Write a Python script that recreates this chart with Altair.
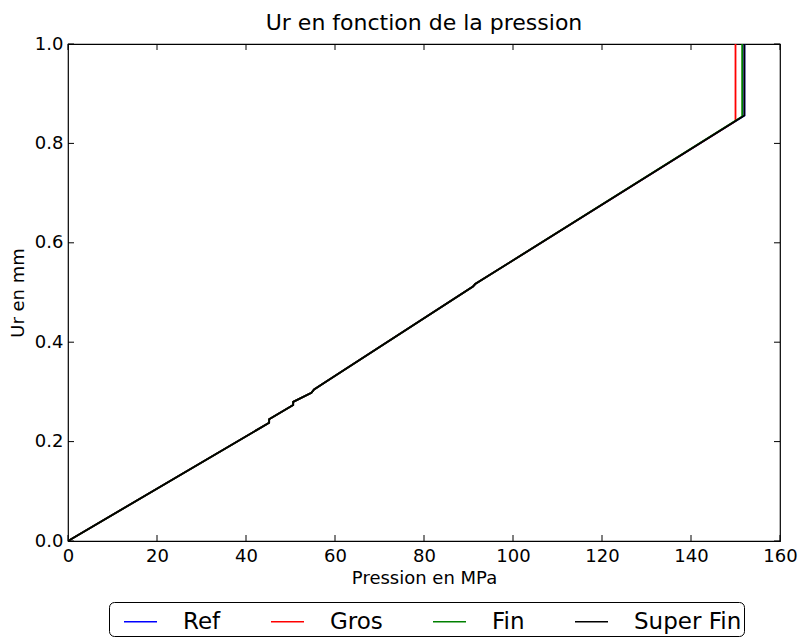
import altair as alt
import pandas as pd

# ---- data ----
series_names = ["Ref", "Gros", "Fin", "Super Fin"]
series_colors = ["#0000ff", "#ff0000", "#008000", "#000000"]

ref_p = [0, 45.2, 45.2, 50.6, 50.6, 54.7, 55.3, 57.7, 91.0, 91.5, 152.0, 152.0]
ref_u = [0, 0.238, 0.245, 0.2736, 0.280, 0.298, 0.305, 0.319, 0.512, 0.517, 0.856, 1.0]

gros_p = [0, 45.2, 45.2, 50.6, 50.6, 54.7, 55.3, 57.7, 91.0, 91.5, 150.0, 150.0]
gros_u = [0, 0.238, 0.245, 0.2736, 0.280, 0.298, 0.305, 0.319, 0.512, 0.517, 0.845, 1.0]

fin_p = [0, 45.2, 45.2, 50.6, 50.6, 54.7, 55.3, 57.7, 91.0, 91.5, 151.5, 151.5]
fin_u = [0, 0.238, 0.245, 0.2736, 0.280, 0.298, 0.305, 0.319, 0.512, 0.517, 0.854, 1.0]

sfin_p = [0, 45.2, 45.2, 50.6, 50.6, 54.7, 55.3, 57.7, 91.0, 91.5, 152.0, 152.0]
sfin_u = [0, 0.238, 0.245, 0.2736, 0.280, 0.298, 0.305, 0.319, 0.512, 0.517, 0.856, 1.0]

x_ticks = [0, 20, 40, 60, 80, 100, 120, 140, 160]
y_ticks = [0.0, 0.2, 0.4, 0.6, 0.8, 1.0]

# ---- build table ----
rows = []
for name, ps, us in zip(series_names, [ref_p, gros_p, fin_p, sfin_p], [ref_u, gros_u, fin_u, sfin_u]):
    for i, (p, u) in enumerate(zip(ps, us)):
        rows.append({"series": name, "P": p, "U": u, "i": i})
df = pd.DataFrame(rows)

W, H = 712, 497
FONT = "DejaVu Sans"

xscale = alt.Scale(domain=[0, 160], nice=False, zero=False)
yscale = alt.Scale(domain=[0, 1], nice=False, zero=False)
cscale = alt.Scale(domain=series_names, range=series_colors)

x_enc = alt.X("P:Q", scale=xscale,
              axis=alt.Axis(title="Pression en MPa", values=x_ticks, format="d",
                            tickSize=0, labelPadding=6, titlePadding=4,
                            labelFlush=False, grid=False))
y_enc = alt.Y("U:Q", scale=yscale,
              axis=alt.Axis(title="Ur en mm", values=y_ticks, format=".1f",
                            tickSize=0, labelPadding=5, titlePadding=7,
                            labelFlush=False, grid=False))

layers = []
for name in series_names:
    layers.append(
        alt.Chart(df).transform_filter(alt.datum.series == name)
        .mark_line(strokeWidth=1.8, clip=True)
        .encode(
            x=x_enc, y=y_enc,
            order=alt.Order("i:Q"),
            color=alt.Color("series:N", scale=cscale,
                            legend=alt.Legend(
                                title=None,
                                orient="none", legendX=41, legendY=558,
                                direction="horizontal", columns=4,
                                symbolType="stroke", symbolSize=1089,
                                symbolStrokeWidth=1.7, labelOffset=25,
                                symbolOffset=12,
                                columnPadding=37, labelFontSize=23,
                                labelFont=FONT, labelColor="black",
                                fillColor="white", strokeColor="black",
                                cornerRadius=5, padding=2,
                                labelLimit=300)),
        )
    )

xt = pd.DataFrame({"P": x_ticks})
yt = pd.DataFrame({"U": y_ticks})
tick_len = 6
tx_bottom = alt.Chart(xt).mark_rule(color="black", strokeWidth=1).encode(
    x=alt.X("P:Q", scale=xscale), y=alt.value(H), y2=alt.value(H - tick_len))
tx_top = alt.Chart(xt).mark_rule(color="black", strokeWidth=1).encode(
    x=alt.X("P:Q", scale=xscale), y=alt.value(0), y2=alt.value(tick_len))
ty_left = alt.Chart(yt).mark_rule(color="black", strokeWidth=1).encode(
    y=alt.Y("U:Q", scale=yscale), x=alt.value(0), x2=alt.value(tick_len))
ty_right = alt.Chart(yt).mark_rule(color="black", strokeWidth=1).encode(
    y=alt.Y("U:Q", scale=yscale), x=alt.value(W), x2=alt.value(W - tick_len))

chart = alt.layer(*layers, tx_bottom, tx_top, ty_left, ty_right).properties(
    width=W, height=H,
    title=alt.TitleParams("Ur en fonction de la pression", fontSize=22, font=FONT,
                          fontWeight="normal", color="black", offset=0,
                          anchor="middle"),
    autosize=alt.AutoSizeParams(type="none"),
    padding={"left": 60, "top": 36, "right": 18, "bottom": 120},
    background="white",
).configure_view(
    stroke="black", strokeWidth=1.2
).configure_axis(
    domain=False, labelFont=FONT, titleFont=FONT, labelFontSize=18,
    titleFontSize=18, titleFontWeight="normal", labelColor="black",
    titleColor="black"
)

chart.save("out.html", embed_options={"renderer": "svg", "actions": False})
